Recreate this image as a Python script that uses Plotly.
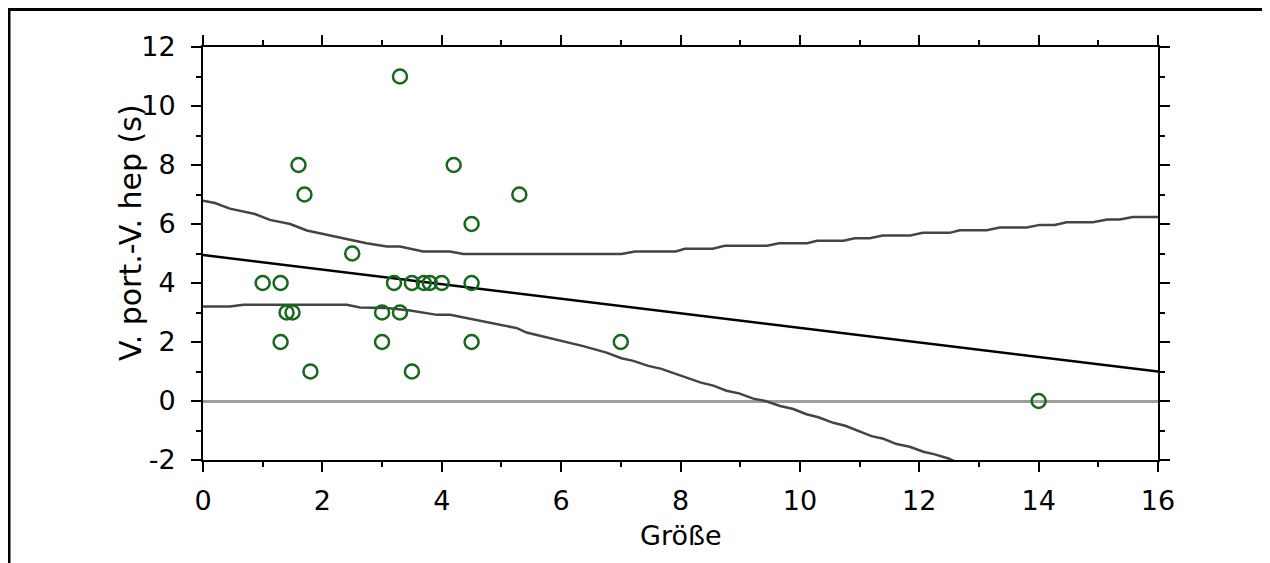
import plotly.graph_objects as go

# Observed points
size_x = [1.0, 1.3, 1.3, 1.4, 1.5, 1.6, 1.7, 1.8, 2.5, 3.0, 3.0, 3.2, 3.3, 3.3,
          3.5, 3.5, 3.7, 3.8, 4.0, 4.2, 4.5, 4.5, 4.5, 5.3, 7.0, 14.0]
delay_y = [4, 4, 2, 3, 3, 8, 7, 1, 5, 3, 2, 4, 11, 3,
           4, 1, 4, 4, 4, 8, 6, 4, 2, 7, 2, 0]

# Regression line (endpoints)
reg_x = [0, 16]
reg_y = [4.95, 1.0]

# Upper confidence band
upper_x = [0.0, 0.2, 0.45, 0.87, 1.12, 1.46, 1.74, 2.07, 2.41, 2.74, 3.08, 3.3, 3.69,
           4.14, 4.36, 5.31, 7.01, 7.24, 7.92, 8.07, 8.54, 8.74, 9.45, 9.65, 10.12,
           10.29, 10.73, 10.92, 11.17, 11.39, 11.85, 12.06, 12.51, 12.68, 13.13,
           13.35, 13.8, 14.02, 14.27, 14.47, 14.91, 15.15, 15.36, 15.58, 16.0]
upper_y = [6.79, 6.71, 6.52, 6.34, 6.14, 6.0, 5.78, 5.63, 5.49, 5.35, 5.24, 5.24, 5.07,
           5.07, 4.98, 4.98, 4.98, 5.07, 5.07, 5.16, 5.16, 5.26, 5.26, 5.35, 5.35,
           5.43, 5.43, 5.52, 5.52, 5.61, 5.61, 5.7, 5.7, 5.79, 5.79,
           5.88, 5.88, 5.97, 5.97, 6.06, 6.06, 6.15, 6.15, 6.24, 6.24]

# Lower confidence band
lower_x = [0.0, 0.45, 0.68, 2.41, 2.63, 3.08, 3.47, 3.92, 4.14, 4.42, 4.7, 4.98, 5.26,
           5.42, 5.7, 6.09, 6.37, 6.76, 7.01, 7.21, 7.46, 7.68, 7.94, 8.1, 8.33, 8.55,
           8.77, 8.98, 9.22, 9.42, 9.67, 9.89, 10.11, 10.31, 10.56, 10.76, 10.98,
           11.2, 11.4, 11.62, 11.84, 12.07, 12.26, 12.49, 12.6]
lower_y = [3.2, 3.2, 3.26, 3.26, 3.17, 3.15, 3.07, 2.92, 2.92, 2.81, 2.69, 2.58, 2.47,
           2.32, 2.18, 2.01, 1.86, 1.64, 1.45, 1.36, 1.19, 1.09, 0.91, 0.8, 0.63, 0.52,
           0.35, 0.26, 0.08, 0.0, -0.17, -0.27, -0.45, -0.55, -0.74, -0.84, -1.01,
           -1.19, -1.28, -1.46, -1.55, -1.72, -1.81, -1.95, -2.05]

x_ticks = [0, 2, 4, 6, 8, 10, 12, 14, 16]
y_ticks = [-2, 0, 2, 4, 6, 8, 10, 12]

FONT = "DejaVu Sans"

fig = go.Figure()
fig.add_trace(go.Scatter(x=upper_x, y=upper_y, mode="lines",
                         line=dict(color="#444444", width=2.5), hoverinfo="skip"))
fig.add_trace(go.Scatter(x=lower_x, y=lower_y, mode="lines",
                         line=dict(color="#444444", width=2.5), hoverinfo="skip"))
fig.add_trace(go.Scatter(x=reg_x, y=reg_y, mode="lines",
                         line=dict(color="#000000", width=2.5), hoverinfo="skip"))
fig.add_trace(go.Scatter(x=size_x, y=delay_y, mode="markers",
                         marker=dict(symbol="circle-open", size=14,
                                     color="#16691a", line=dict(width=2.5, color="#16691a"))))

axis_common = dict(
    showline=True, linecolor="black", linewidth=2,
    ticks="outside", ticklen=10, tickwidth=2, tickcolor="black",
    mirror="ticks", showgrid=False,
    minor=dict(ticks="outside", ticklen=5, tickwidth=2, tickcolor="black", dtick=1),
    tickfont=dict(family=FONT, size=27, color="black"),
)

fig.update_xaxes(range=[0, 16], tickvals=x_ticks, ticktext=[str(v) for v in x_ticks],
                 zeroline=False, ticklabelstandoff=6, **axis_common)
fig.update_yaxes(range=[-2, 12], tickvals=y_ticks, ticktext=[str(v) for v in y_ticks],
                 zeroline=True, zerolinecolor="#9e9e9e", zerolinewidth=2.5,
                 ticklabelstandoff=10, **axis_common)

# outer frame (positions given in page pixels of the reference, mapped to paper coords)
def px_x(p):
    return (p - 203) / 955.0

def px_y(p):
    return (460 - p) / 413.0

frame = dict(color="black", width=3)
fig.add_shape(type="line", xref="paper", yref="paper", x0=px_x(9), x1=px_x(9),
              y0=px_y(8.5), y1=px_y(620), line=frame)
fig.add_shape(type="line", xref="paper", yref="paper", x0=px_x(8), x1=px_x(1267),
              y0=px_y(9.5), y1=px_y(9.5), line=frame)
fig.add_shape(type="line", xref="paper", yref="paper", x0=px_x(1267), x1=px_x(1267),
              y0=px_y(8), y1=px_y(620), line=dict(color="black", width=5))

fig.add_annotation(text="Größe", xref="paper", yref="paper", x=0.5, y=px_y(535),
                   xanchor="center", yanchor="middle", showarrow=False,
                   font=dict(family=FONT, size=27, color="black"))
fig.add_annotation(text="V. port.-V. hep (s)", xref="paper", yref="paper",
                   x=px_x(130), y=px_y(233), textangle=-90,
                   xanchor="center", yanchor="middle", showarrow=False,
                   font=dict(family=FONT, size=30, color="black"))

fig.update_layout(
    width=1262, height=555,
    margin=dict(l=195, r=112, t=39, b=103),
    paper_bgcolor="white", plot_bgcolor="white",
    showlegend=False,
)

fig.write_html("out.html")
